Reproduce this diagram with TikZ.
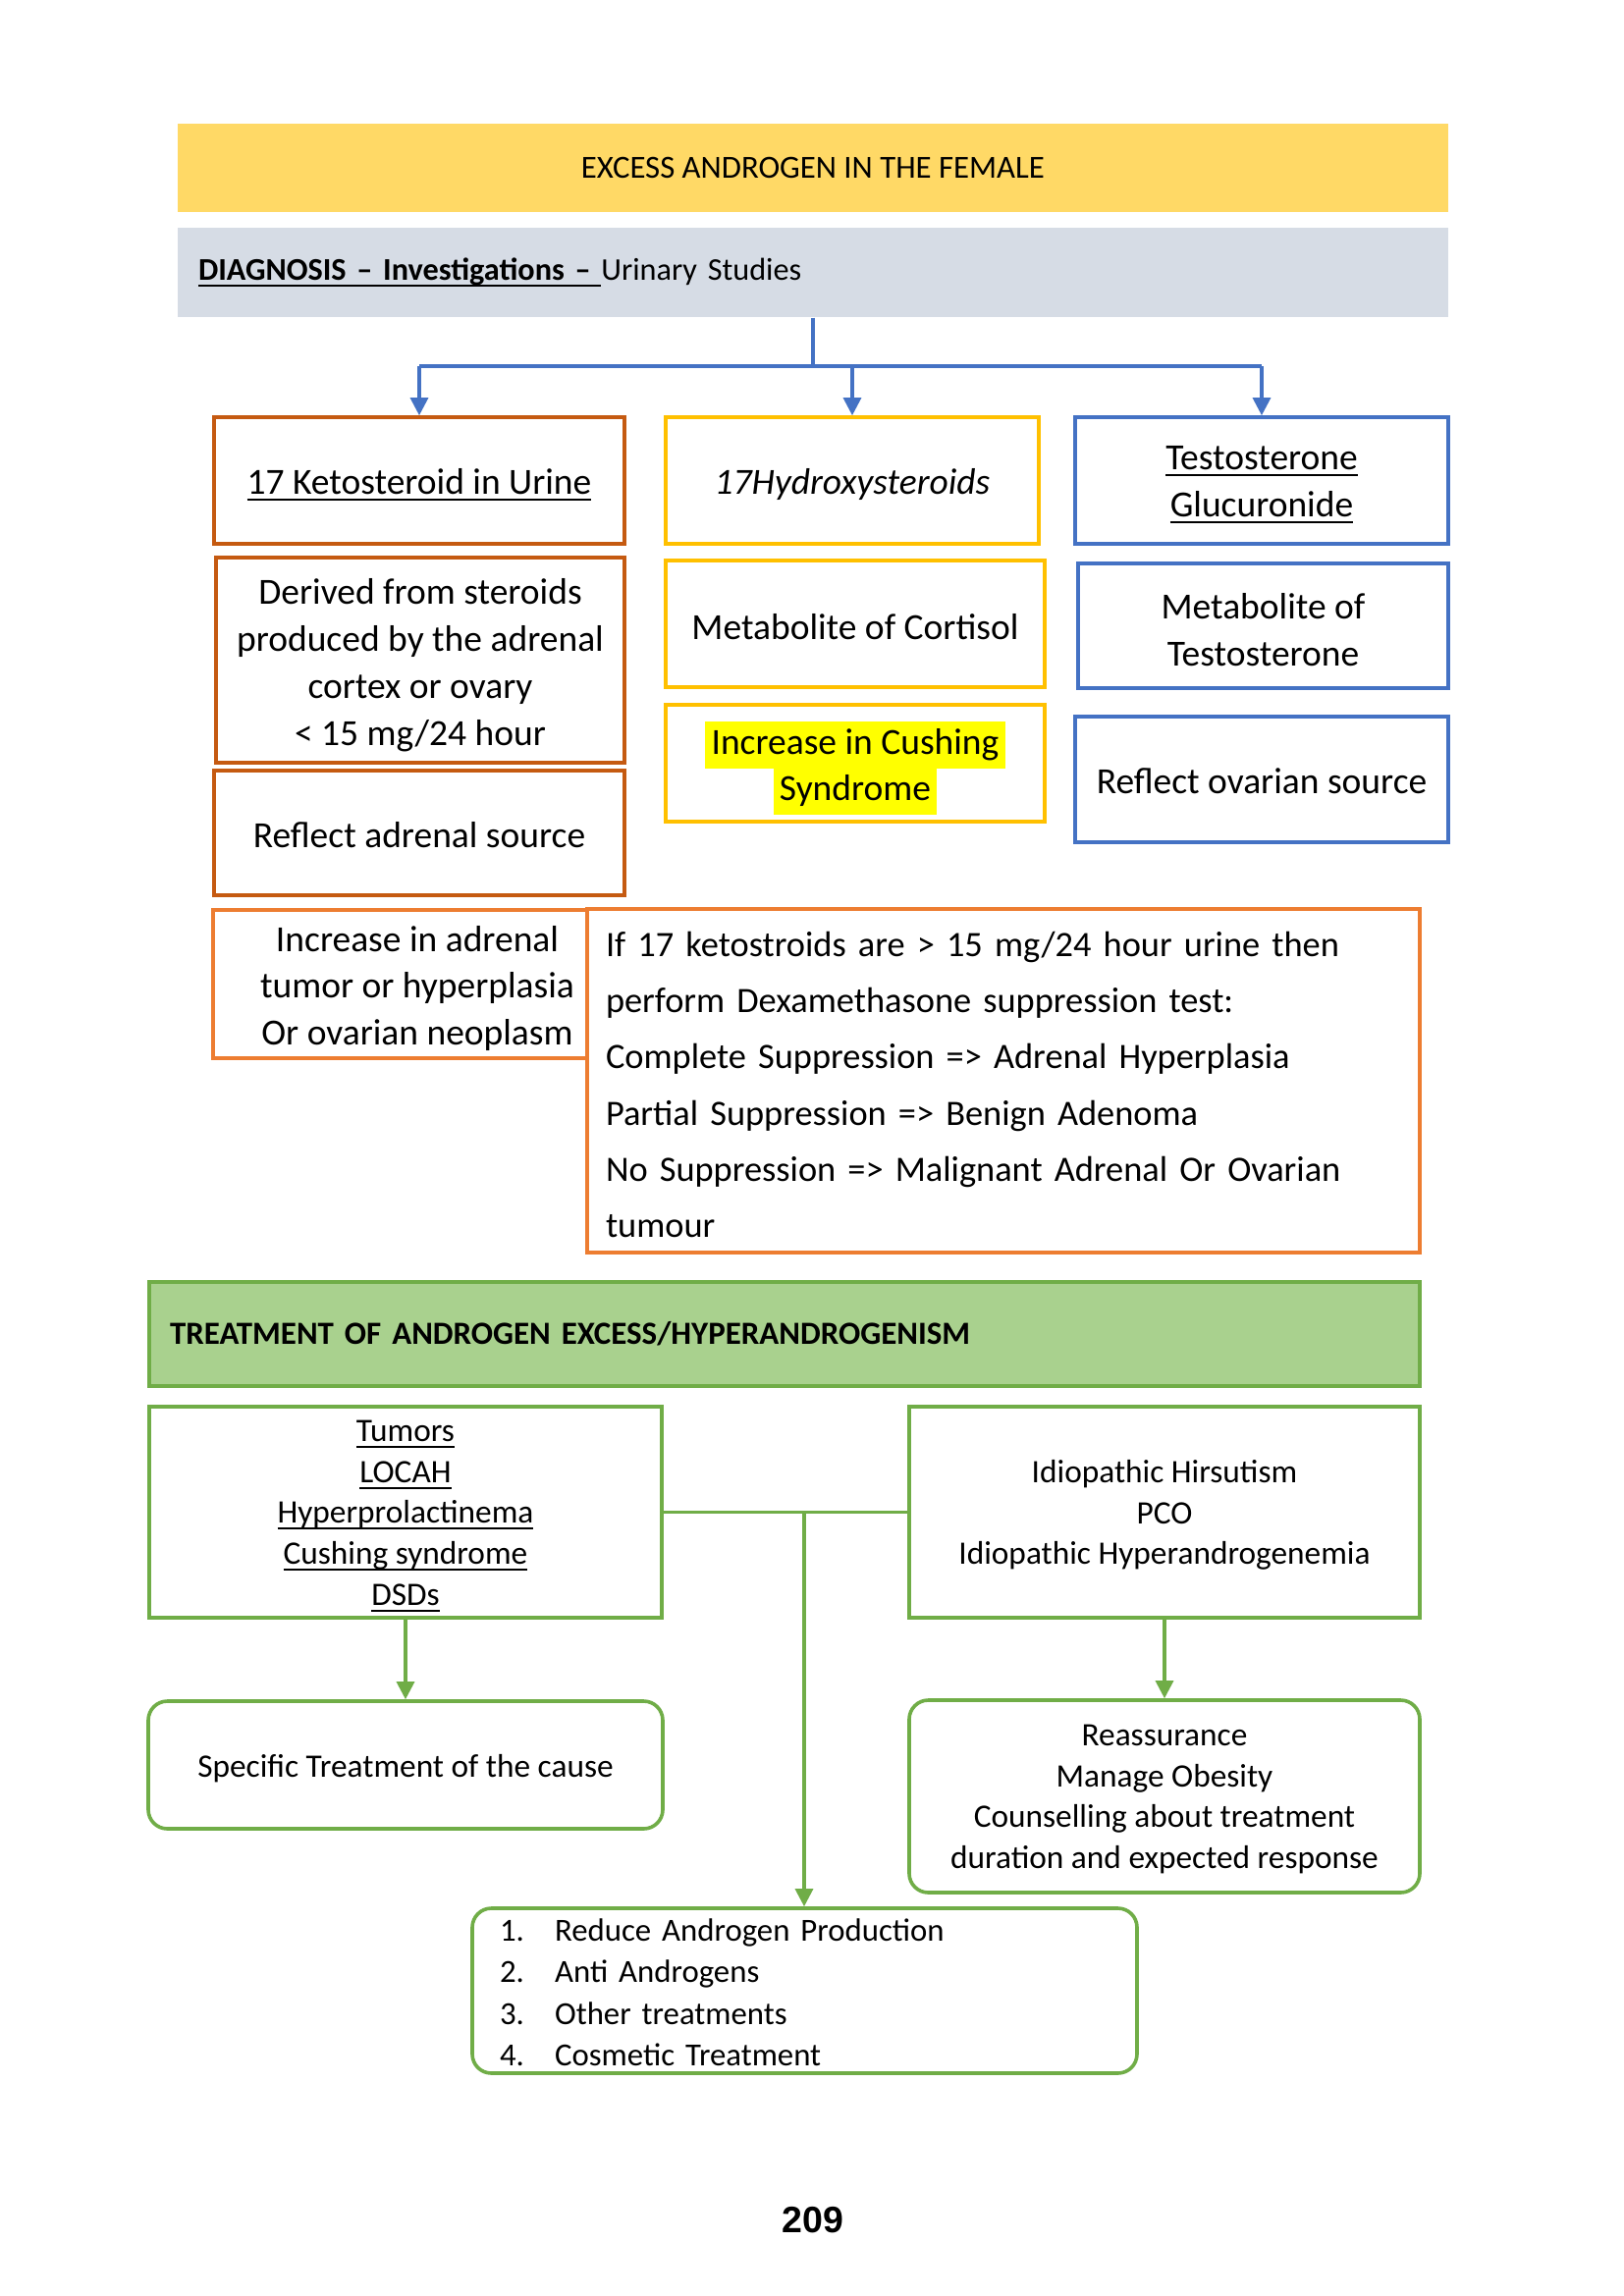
\documentclass[tikz,border=0pt]{standalone}
\usepackage{fontspec}
\setmainfont{Carlito}
\newfontfamily\arialfont{Liberation Sans}
\usetikzlibrary{arrows.meta}
\definecolor{bandyellow}{HTML}{FFD966}
\definecolor{bandgrey}{HTML}{D6DCE5}
\definecolor{bandgreen}{HTML}{A9D18E}
\definecolor{cblue}{HTML}{4472C4}
\definecolor{cbrown}{HTML}{C55A11}
\definecolor{corange}{HTML}{ED7D31}
\definecolor{cgold}{HTML}{FFC000}
\definecolor{cgreen}{HTML}{70AD47}
\definecolor{hly}{HTML}{FFFF00}
\newsavebox\ulbox
\newcommand\uln[1]{\sbox\ulbox{#1}\rlap{\rule[-2.3pt]{\wd\ulbox}{0.75pt}}\usebox\ulbox}
\newcommand\hlt[1]{{\setlength\fboxsep{0pt}\colorbox{hly}{\strut\,#1\,}}}
\def\pxu{0.35993pt}
\tikzset{
  bx/.style 2 args={minimum width=#1*\pxu, minimum height=#2*\pxu},
  box/.style={draw, line width=1.3pt, inner sep=0pt},
  gbox/.style={draw=cgreen, line width=1.3pt, inner sep=0pt},
  tx/.style={inner sep=0pt, align=center, font=\fontsize{13.5}{17.2}\selectfont},
  gtx/.style={inner sep=0pt, align=center, font=\fontsize{12}{15}\selectfont},
  band/.style={inner sep=0pt},
  barr/.style={draw=cblue, line width=1.1pt},
  garr/.style={draw=cgreen, line width=1.1pt},
  tip/.style={-{Triangle[width=6.5pt,length=6.5pt]}}
}
\begin{document}
\begin{tikzpicture}[x=0.35993pt, y=-0.35993pt]
\fill[white] (0,0) rectangle (1654,2339);
\useasboundingbox (0,0) rectangle (1654,2339);

% header bands
\node[band, fill=bandyellow, bx={1294}{90}, font=\fontsize{11.8}{14}\selectfont] (title) at (828,171) {EXCESS ANDROGEN IN THE FEMALE};
\node[band, fill=bandgrey, bx={1294}{91}, text width=1252*\pxu, align=left, font=\fontsize{11.6}{14}\selectfont] (diag) at (828,277.5)
  {\uln{\bfseries DIAGNOSIS -- Investigations --\ }Urinary Studies};

% column A
\node[box, draw=cbrown, bx={418}{129}] (a1) at (427,489.5) {};
\node[tx] (a1t) at ([yshift=-1.6pt]a1.center) {\uln{17 Ketosteroid in Urine}};
\node[box, draw=cbrown, bx={416}{209}] (a2) at (428,672.5) {};
\node[tx] (a2t) at ([yshift=-1.9pt]a2.center) {Derived from steroids\\produced by the adrenal\\cortex or ovary\\< 15 mg/24 hour};
\node[box, draw=cbrown, bx={418}{127}] (a3) at (427,848.5) {};
\node[tx] (a3t) at ([yshift=-0.6pt]a3.center) {Reflect adrenal source};
\node[box, draw=corange, bx={381}{151}] (a4) at (407.5,1002.5) {};
\node[tx] (a4t) at ([xshift=6.3pt,yshift=-1.6pt]a4.center) {Increase in adrenal\\tumor or hyperplasia\\Or ovarian neoplasm};

% column B
\node[box, draw=cgold, bx={380}{129}] (b1) at (868,489.5) {};
\node[tx] (b1t) at ([yshift=-1.6pt]b1.center) {\itshape 17Hydroxysteroids};
\node[box, draw=cgold, bx={386}{129}] (b2) at (871,635.5) {};
\node[tx] (b2t) at ([yshift=-1.1pt]b2.center) {Metabolite of Cortisol};
\node[box, draw=cgold, bx={386}{119}] (b3) at (871,777.5) {};
\node[tx] (b3t) at ([yshift=-1.8pt]b3.center) {\hlt{Increase in Cushing}\\[-0.2pt]\hlt{Syndrome}};

% column C
\node[box, draw=cblue, bx={380}{129}] (c1) at (1285,489.5) {};
\node[tx] (c1t) at ([yshift=-1.6pt]c1.center) {\uln{Testosterone}\\\uln{Glucuronide}};
\node[box, draw=cblue, bx={377}{127}] (c2) at (1286.5,637.5) {};
\node[tx] (c2t) at ([yshift=-1.6pt]c2.center) {Metabolite of\\Testosterone};
\node[box, draw=cblue, bx={380}{128}] (c3) at (1285,794) {};
\node[tx] (c3t) at ([yshift=-0.6pt]c3.center) {Reflect ovarian source};

% dexamethasone box
\node[box, draw=corange, bx={848}{350}] (d) at (1022,1101) {};
\node[tx, text width=810*\pxu, align=left, font=\fontsize{13.1}{20.6}\selectfont] (dt) at ([yshift=-1.4pt]d.center)
  {If 17 ketostroids are > 15 mg/24 hour urine then\\
   perform Dexamethasone suppression test:\\
   Complete Suppression => Adrenal Hyperplasia\\
   Partial Suppression => Benign Adenoma\\
   No Suppression => Malignant Adrenal Or Ovarian\\
   tumour};

% blue connectors
\coordinate (bh) at (828,373);
\draw[barr] (diag.south) -- (bh);
\draw[barr] (a1.north |- bh) -- (c1.north |- bh);
\draw[barr, tip] (a1.north |- bh) -- (a1.north);
\draw[barr, tip] (b1.north |- bh) -- (b1.north);
\draw[barr, tip] (c1.north |- bh) -- (c1.north);

% treatment section
\node[band, fill=bandgreen, draw=cgreen, line width=1.3pt, bx={1294}{106}, text width=1252*\pxu, align=left, font=\fontsize{11.85}{14}\selectfont] (treat) at (799,1359)
  {\bfseries TREATMENT OF ANDROGEN EXCESS/HYPERANDROGENISM};

\node[gbox, bx={522}{215}] (l1) at (413,1540.5) {};
\node[gtx] (l1t) at ([yshift=-1.4pt]l1.center) {\uln{Tumors}\\\uln{LOCAH}\\\uln{Hyperprolactinema}\\\uln{Cushing syndrome}\\\uln{DSDs}};
\node[gbox, bx={520}{215}] (r1) at (1186,1540.5) {};
\node[gtx] (r1t) at ([yshift=-1.1pt]r1.center) {Idiopathic Hirsutism\\PCO\\Idiopathic Hyperandrogenemia};
\node[gbox, rounded corners=7pt, bx={524}{130}] (l2) at (413,1798) {};
\node[gtx] (l2t) at ([yshift=-1.2pt]l2.center) {Specific Treatment of the cause};
\node[gbox, rounded corners=7pt, bx={520}{196}] (r2) at (1186,1830) {};
\node[gtx] (r2t) at ([yshift=-1.1pt]r2.center) {Reassurance\\Manage Obesity\\Counselling about treatment\\duration and expected response};
\node[gbox, rounded corners=7pt, bx={677}{168}] (bot) at (819.5,2028) {};
\node[gtx, text width=621*\pxu, align=left, font=\fontsize{11.8}{15.3}\selectfont] (bott) at ([yshift=-0.6pt]bot.center)
  {\makebox[20.2pt][l]{1.}Reduce Androgen Production\\
   \makebox[20.2pt][l]{2.}Anti Androgens\\
   \makebox[20.2pt][l]{3.}Other treatments\\
   \makebox[20.2pt][l]{4.}Cosmetic Treatment};

% green connectors
\draw[garr] (l1.east) -- (r1.west);
\coordinate (j) at (819,1540.5);
\draw[garr, tip] (j) -- (j |- bot.north);
\draw[garr, tip] (l1.south) -- (l2.north);
\draw[garr, tip] (r1.south) -- (r2.north);

% page number
\node[inner sep=0pt, font=\arialfont\bfseries\fontsize{13.5}{16}\selectfont] (page) at (828,2262) {209};
\end{tikzpicture}
\end{document}
